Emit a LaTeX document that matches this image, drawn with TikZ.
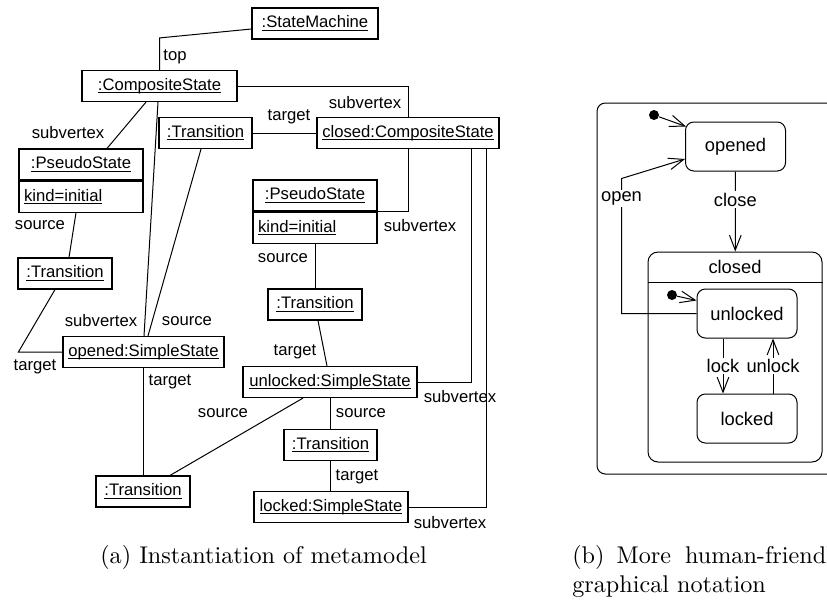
\documentclass[tikz,border=0pt]{standalone}
\usepackage{fontspec}
\newfontfamily\umlfont{Liberation Sans}
\usepackage{tikz}
\usetikzlibrary{calc}
\usetikzlibrary{arrows.meta}
\usetikzlibrary{positioning}

\newcommand{\objn}[1]{\underline{\raisebox{0pt}[\height][0pt]{#1}}}
\newcommand{\capsize}[1]{\scalebox{1.45}{#1}}

\tikzset{
  obj/.style={draw, line width=0.7pt, font=\umlfont\fontsize{10}{12}\selectfont, minimum height=18.6pt, inner sep=0pt},
  attr/.style={obj, inner xsep=3pt, text width=68.4pt, align=left},
  role/.style={font=\umlfont\fontsize{10}{12}\selectfont, inner sep=1pt},
  assoc/.style={line width=0.6pt},
  st/.style={draw, line width=0.6pt, rounded corners=5pt, font=\umlfont\fontsize{11}{13}\selectfont, minimum width=60pt, minimum height=29.4pt},
  trans/.style={line width=0.6pt, -{Straight Barb[length=9pt,width=7pt]}},
  initdot/.style={circle, fill, inner sep=0pt, minimum size=6pt},
  evt/.style={font=\umlfont\fontsize{11}{13}\selectfont, fill=white, inner sep=1pt},
  capt/.style={font=\fontsize{10}{12}\selectfont, inner sep=0pt}
}

\begin{document}
\begin{tikzpicture}[x=0.6pt, y=0.6pt]
\useasboundingbox (0,0) rectangle (827,-601);
\clip (0,0) rectangle (827,-601);

%objects
\node[obj, minimum width=75.6pt] (sm) at (315,-23.5) {\objn{:StateMachine}};
\node[obj, minimum width=93pt] (cs) at (159.5,-86) {\objn{:CompositeState}};
\node[obj, minimum width=55.8pt] (trA) at (205.5,-133) {\objn{:Transition}};
\node[obj, minimum width=109.2pt] (closed) at (408,-133) {\objn{closed:CompositeState}};
\node[obj, minimum width=74.4pt] (psA) at (81,-164.5) {\objn{:PseudoState}};
\node[attr, anchor=north] (psAkind) at (psA.south) {\objn{kind=initial}};
\node[obj, minimum width=56.4pt] (trB) at (65,-273.5) {\objn{:Transition}};
\node[obj, minimum width=96.6pt] (opened) at (143.5,-352) {\objn{opened:SimpleState}};
\node[obj, minimum width=74.4pt] (psB) at (315,-195.5) {\objn{:PseudoState}};
\node[attr, anchor=north] (psBkind) at (psB.south) {\objn{kind=initial}};
\node[obj, minimum width=56.4pt] (trC) at (315,-304.5) {\objn{:Transition}};
\node[obj, minimum width=104.4pt] (unlockedO) at (330,-382) {\objn{unlocked:SimpleState}};
\node[obj, minimum width=56.4pt] (trD) at (143,-491.5) {\objn{:Transition}};
\node[obj, minimum width=55.8pt] (trE) at (330.5,-445) {\objn{:Transition}};
\node[obj, minimum width=92.4pt] (lockedO) at (331,-507) {\objn{locked:SimpleState}};

%links
\draw[assoc] ([yshift=-3.3pt]sm.west) -- ($(cs.north)+(0,32)$) -- (cs.north);
\node[role] (rTop) at (175,-57) {top};
\draw[assoc] (cs.east) -| (closed.north);
\node[role] (rSub1) at (365,-103) {subvertex};
\draw[assoc] (trA) -- (closed);
\node[role] (rTgt1) at (289,-117) {target};
\draw[assoc] ($(cs.south)+(-13.5,0)$) -- ($(psA.north)+(26,0)$);
\node[role] (rSub2) at (68,-133) {subvertex};
\draw[assoc] ($(cs.south)+(-1.5,0)$) -- ($(opened.north)+(0.5,0)$);
\node[role] (rSub3) at (101,-321) {subvertex};
\draw[assoc] ($(trA.south)+(-4.5,0)$) -- ($(opened.north)+(4.5,0)$);
\node[role] (rSrc1) at (187,-321) {source};
\draw[assoc] ($(psAkind.south)+(-5,0)$) -- ($(trB.north)+(4,0)$);
\node[role] (rSrc2) at (40,-225) {source};
\draw[assoc] ($(trB.south)+(-10,0)$) -- ($(opened.west)+(-44,0)$) -- (opened.west);
\node[role] (rTgt2) at (35,-367) {target};
\draw[assoc] (opened.south) -- (opened.south |- trD.north);
\node[role] (rTgt3) at (170,-382) {target};
\draw[assoc] (closed.south) |- (psB.south east);
\node[role] (rSub4) at (420,-226) {subvertex};
\draw[assoc] (psBkind.south) -- (trC.north);
\node[role] (rSrc3) at (283,-258) {source};
\draw[assoc] ($(trC.south)+(3,0)$) -- ($(unlockedO.north)+(-3,0)$);
\node[role] (rTgt4) at (295,-352) {target};
\draw[assoc] (unlockedO.east) -| ($(closed.south)+(63,0)$);
\node[role] (rSub5) at (460,-397) {subvertex};
\draw[assoc] ($(unlockedO.south)+(-27,0)$) -- ($(trD.north)+(27,0)$);
\node[role] (rSrc4) at (223,-413) {source};
\draw[assoc] (unlockedO.south) -- (unlockedO.south |- trE.north);
\node[role] (rSrc5) at (361,-413) {source};
\draw[assoc] (trE.south) -- (trE.south |- lockedO.north);
\node[role] (rTgt5) at (357,-477) {target};
\draw[assoc] (lockedO.east) -| ($(closed.south)+(78,0)$);
\node[role] (rSub6) at (450,-523) {subvertex};

%state machine frame
\draw[line width=0.6pt, rounded corners=5pt] (860,-103) -- (597,-103) -- (597,-474) -- (860,-474);

%states
\node[st] (stOpened) at (735.5,-146.5) {opened};
\node[initdot] (ini1) at (654,-115) {};
\draw[trans] (ini1) -- ($(stOpened.north west)+(1,-5)$);

\node[draw, line width=0.6pt, rounded corners=6pt, minimum width=104.4pt, minimum height=126pt] (stClosed) at (735,-357) {};
\node[evt, fill=none] (stClosedName) at (735,-267) {closed};
\draw[line width=0.6pt] ($(stClosed.north west)+(0,-31)$) -- ($(stClosed.north east)+(0,-31)$);

\node[st] (stUnlocked) at (747,-313.5) {unlocked};
\node[st] (stLocked) at (747,-418.5) {locked};
\node[initdot] (ini2) at (672,-295) {};
\draw[trans] (ini2) -- ($(stUnlocked.north west)+(0,-12)$);

%transitions
\draw[trans] (stOpened) -- (stClosed) node[evt, pos=0.35] (evClose) {close};
\draw[trans] (stUnlocked.west) -- ++(-75,0) -- ++(0,135) node[evt, pos=0.85] (evOpen) {open} -- ($(stOpened.west)+(0,-12.5)$);
\draw[trans] ($(stUnlocked.south)+(-24,0)$) -- ($(stLocked.north)+(-24,0)$) node[evt, midway] (evLock) {lock};
\draw[trans] ($(stLocked.north)+(26,0)$) -- ($(stUnlocked.south)+(26,0)$) node[evt, midway] (evUnlock) {unlock};

%captions
\node[capt, anchor=base west] (capA) at (100,-563) {\capsize{(a) Instantiation of metamodel}};
\node[capt, anchor=base west] (capB) at (572,-563) {\capsize{(b)\hskip5pt More\hskip5.8pt human-friendly}};
\node[capt, anchor=base west] (capB2) at (572,-592) {\capsize{graphical notation}};
\end{tikzpicture}
\end{document}
